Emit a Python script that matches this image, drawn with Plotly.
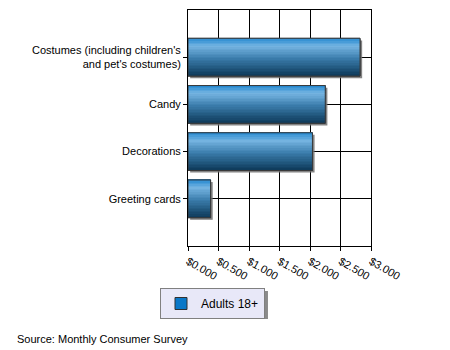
import plotly.graph_objects as go

categories = ["Costumes (including children's<br>and pet's costumes)", "Candy", "Decorations", "Greeting cards"]
values = [2.82, 2.25, 2.04, 0.37]
series_name = "Adults 18+"
tick_vals = [0, 0.5, 1.0, 1.5, 2.0, 2.5, 3.0]
source_text = "Source: Monthly Consumer Survey"

FONT = "Liberation Sans"
BAR_W = 0.8
N_STRIPS = 24

stops = [(0.0, (31, 134, 207)), (0.22, (118, 181, 226)), (0.55, (58, 124, 171)), (1.0, (14, 58, 90))]


def grad(t):
    for (t0, c0), (t1, c1) in zip(stops[:-1], stops[1:]):
        if t0 <= t <= t1:
            f = (t - t0) / (t1 - t0)
            c = [round(a + (b - a) * f) for a, b in zip(c0, c1)]
            return "rgb(%d,%d,%d)" % tuple(c)
    return "rgb(%d,%d,%d)" % stops[-1][1]


fig = go.Figure()

# shadow
fig.add_trace(go.Bar(
    y=categories, x=values, base=0.035, orientation="h",
    width=BAR_W, offset=-BAR_W / 2 + 0.045,
    marker=dict(color="rgba(110,110,110,0.85)", line=dict(width=0)),
    showlegend=False, hoverinfo="skip"))

# base bar (legend)
fig.add_trace(go.Bar(
    y=categories, x=values, orientation="h", name=series_name,
    width=BAR_W, offset=-BAR_W / 2,
    marker=dict(color="#0A78C8", line=dict(color="#303030", width=1)),
    showlegend=True))

# gradient strips
sw = BAR_W / N_STRIPS
for i in range(N_STRIPS):
    t = (i + 0.5) / N_STRIPS
    fig.add_trace(go.Bar(
        y=categories, x=values, orientation="h",
        width=sw * 1.02, offset=-BAR_W / 2 + i * sw,
        marker=dict(color=grad(t), line=dict(width=0)),
        showlegend=False, hoverinfo="skip"))

# outline
fig.add_trace(go.Bar(
    y=categories, x=values, orientation="h",
    width=BAR_W, offset=-BAR_W / 2,
    marker=dict(color="rgba(0,0,0,0)", line=dict(color="#3a3a3a", width=1)),
    showlegend=False, hoverinfo="skip"))

fig.update_layout(
    width=450, height=350,
    margin=dict(l=188, r=79, t=10, b=104),
    barmode="overlay",
    paper_bgcolor="white", plot_bgcolor="white",
    font=dict(family=FONT, size=11, color="#000000"),
    xaxis=dict(
        range=[0, 3.0], tickvals=tick_vals, tickformat="$.3f",
        tickangle=30, showgrid=True, gridcolor="#000000", gridwidth=1,
        zeroline=False, showline=True, linecolor="#000000", linewidth=1, mirror=True,
        ticks="outside", ticklen=4, tickcolor="#000000",
        tickfont=dict(family=FONT, size=11, color="#000000"),
    ),
    yaxis=dict(
        type="category", categoryorder="array", categoryarray=categories,
        range=[4, -1], showgrid=True, gridcolor="#000000", gridwidth=1,
        showline=True, linecolor="#000000", linewidth=1, mirror=True,
        ticks="outside", ticklen=4, tickcolor="#000000",
        tickfont=dict(family=FONT, size=11, color="#000000"),
    ),
    legend=dict(
        x=-0.153, y=-0.178, xanchor="left", yanchor="top",
        bgcolor="#E8E8F8", bordercolor="#808080", borderwidth=1,
        font=dict(family=FONT, size=12, color="#000000"),
        orientation="h",
    ),
    shapes=[dict(
        type="rect", xref="paper", yref="paper", layer="above",
        x0=-0.1366, x1=0.437, y0=-0.309, y1=-0.1907,
        fillcolor="#8a8a8a", line=dict(width=0))],
    annotations=[dict(
        text=source_text, xref="paper", yref="paper",
        x=-0.945, y=-0.394, xanchor="left", yanchor="middle",
        showarrow=False, font=dict(family=FONT, size=11, color="#000000"))],
)

fig.write_html("out.html")
